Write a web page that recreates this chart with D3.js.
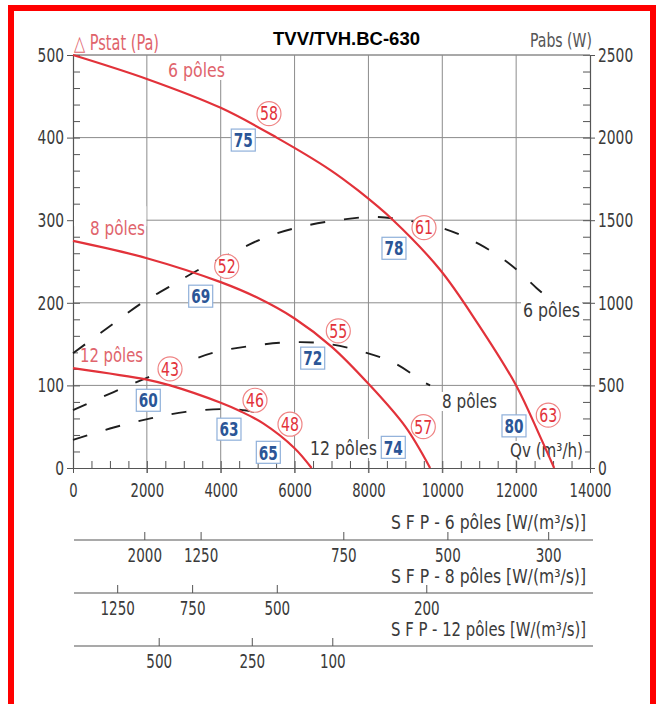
<!DOCTYPE html>
<html>
<head>
<meta charset="utf-8">
<script src="https://d3js.org/d3.v7.min.js"></script>
<style>
    body { margin: 0; background: #fff; }
    svg text { font-family: "Liberation Sans Narrow", "DejaVu Sans Condensed", "Liberation Sans", sans-serif; }
</style>
</head>
<body>
<svg id="chart" width="661" height="704"></svg>
<script>
// axis ticks
var qTicks = [0, 2000, 4000, 6000, 8000, 10000, 12000, 14000];
var pTicks = [0, 100, 200, 300, 400, 500];
var wTicks = [0, 500, 1000, 1500, 2000, 2500];

// static pressure curves, [Qv m3/h, Pa]
var pstat6 = [[0, 500], [2000, 471], [4000, 436], [5515, 400], [6960, 361], [7720, 336], [8670, 300],
    [9940, 240], [10930, 177], [12000, 100], [12650, 38], [13030, 0]];
var pstat8 = [[0, 275], [2000, 254], [4000, 225], [5000, 206], [6000, 181], [7000, 147], [8000, 102],
    [9000, 50], [9670, 0]];
var pstat12 = [[0, 121], [2000, 107], [2630, 100], [4000, 79], [4520, 69], [5150, 54], [6000, 24], [6460, 0]];

// absorbed power curves, [Qv m3/h, W] (right axis)
var pabs6 = [[0, 695], [950, 850], [1870, 1000], [2590, 1095], [3440, 1205], [4380, 1310], [5260, 1400],
    [6170, 1460], [7170, 1500], [8130, 1520], [9020, 1500], [10100, 1445], [11000, 1355], [11800, 1240],
    [12550, 1090], [12730, 1055]];
var pabs8 = [[0, 350], [1100, 460], [2050, 550], [3000, 635], [3840, 700], [4800, 738], [5780, 760],
    [6760, 755], [7750, 710], [8700, 635], [9500, 520], [9670, 500]];
var pabs12 = [[0, 170], [1100, 245], [2100, 300], [3050, 340], [4100, 357], [4700, 348], [5250, 320]];

// red circle markers
var circleVals = ["58", "61", "52", "55", "43", "46", "48", "57", "63"];
var circleQ = [5307, 9505, 4162, 7184, 2627, 4928, 5876, 9486, 12870];
var circleP = [429, 291, 244, 166, 120, 82, 53, 50, 64];

// blue box markers
var boxVals = ["75", "78", "69", "72", "60", "63", "65", "74", "80"];
var boxQ = [4611, 8692, 3458, 6491, 2039, 4224, 5289, 8673, 11942];
var boxP = [397, 266, 208, 133, 82, 47, 19, 25, 51];

// SFP scales under the chart, placed on the Qv axis
var sfp6Labels = ["2000", "1250", "750", "500", "300"];
var sfp6Q = [1944, 3469, 7333, 10152, 12881];
var sfp8Labels = ["1250", "750", "500", "200"];
var sfp8Q = [1210, 3239, 5532, 9580];
var sfp12Labels = ["500", "250", "100"];
var sfp12Q = [2334, 4855, 7035];

var svg = d3.select("#chart");
var gridColor = "#8c8c8c",
    axisColor = "#555",
    textColor = "#3a3a3a",
    red = "#e2323a";

var x = d3.scaleLinear().domain([0, 14000]).range([73, 590]);
var y = d3.scaleLinear().domain([0, 500]).range([468, 55]);
var yW = d3.scaleLinear().domain([0, 2500]).range([468, 55]);

/**
 * squeeze number labels to the narrow look of the original
 */
function narrow(sel, perChar) {
    sel.each(function () {
        var t = d3.select(this);
        var n = t.text().length;
        t.attr("textLength", n * perChar).attr("lengthAdjust", "spacingAndGlyphs");
    });
}

/**
 * plain text label, optional white background
 */
function label(g, txt, px, py, opts) {
    var t = g.append("text")
        .attr("x", px)
        .attr("y", py)
        .attr("font-size", opts.size || 18)
        .attr("fill", opts.color || textColor)
        .attr("text-anchor", opts.anchor || "start")
        .text(txt);
    if (opts.bold) t.attr("font-weight", "bold");
    if (opts.family) t.style("font-family", opts.family);
    if (opts.w) t.attr("textLength", opts.w).attr("lengthAdjust", "spacingAndGlyphs");
    if (opts.bg) {
        var b = t.node().getBBox();
        g.insert("rect", function () { return t.node(); })
            .attr("x", b.x - 2).attr("y", b.y + 2)
            .attr("width", b.width + 4).attr("height", b.height - 3)
            .attr("fill", "#fff");
    }
    return t;
}

// grid
var grid = svg.append("g");
grid.selectAll("line.v")
    .data(qTicks.filter(function (d) { return d > 0 && d < 14000; }))
    .enter().append("line")
    .attr("x1", function (d) { return x(d); })
    .attr("x2", function (d) { return x(d); })
    .attr("y1", y(500)).attr("y2", y(0) + 5)
    .attr("stroke", gridColor).attr("stroke-width", 1);
grid.selectAll("line.h")
    .data(pTicks.filter(function (d) { return d > 0; }))
    .enter().append("line")
    .attr("x1", x(0)).attr("x2", x(14000))
    .attr("y1", function (d) { return y(d); })
    .attr("y2", function (d) { return y(d); })
    .attr("stroke", gridColor).attr("stroke-width", 1);

// axes
function styleAxis(g) {
    g.selectAll("path.domain").attr("stroke", axisColor).attr("stroke-width", 1.2);
    g.selectAll(".tick line").attr("stroke", axisColor).attr("stroke-width", 1);
    g.selectAll(".tick text").attr("fill", textColor).attr("font-size", 19.5);
    g.attr("font-family", null);
}

var minorP = d3.range(0, 501, 20),
    minorW = d3.range(0, 2501, 100),
    minorQ = d3.range(0, 14001, 500);
var fmt = d3.format("d");

var gLeft = svg.append("g").attr("transform", "translate(" + x(0) + ",0)")
    .call(d3.axisLeft(y).tickValues(pTicks).tickFormat(fmt).tickSize(6).tickPadding(3).tickSizeOuter(0));
styleAxis(gLeft);
narrow(gLeft.selectAll(".tick text"), 8.8);
var gLeftMinor = svg.append("g").attr("transform", "translate(" + x(0) + ",0)")
    .call(d3.axisRight(y).tickValues(minorP).tickSize(7).tickFormat(""));
gLeftMinor.select("path.domain").remove();
styleAxis(gLeftMinor);

var gRight = svg.append("g").attr("transform", "translate(" + x(14000) + ",0)")
    .call(d3.axisRight(yW).tickValues(wTicks).tickFormat(fmt).tickSize(5).tickPadding(3).tickSizeOuter(0));
styleAxis(gRight);
narrow(gRight.selectAll(".tick text"), 8.8);
var gRightMinor = svg.append("g").attr("transform", "translate(" + x(14000) + ",0)")
    .call(d3.axisLeft(yW).tickValues(minorW).tickSize(7).tickFormat(""));
gRightMinor.select("path.domain").remove();
styleAxis(gRightMinor);

var gBottom = svg.append("g").attr("transform", "translate(0," + y(0) + ")")
    .call(d3.axisBottom(x).tickValues(qTicks).tickFormat(fmt).tickSize(5).tickPadding(10).tickSizeOuter(0));
styleAxis(gBottom);
narrow(gBottom.selectAll(".tick text"), 8.4);
var gBottomMinor = svg.append("g").attr("transform", "translate(0," + y(0) + ")")
    .call(d3.axisTop(x).tickValues(minorQ).tickSize(7).tickFormat(""));
gBottomMinor.select("path.domain").remove();
styleAxis(gBottomMinor);

// top frame line
svg.append("line")
    .attr("x1", x(0)).attr("x2", x(14000))
    .attr("y1", y(500)).attr("y2", y(500))
    .attr("stroke", gridColor).attr("stroke-width", 1);

// label backgrounds that cut the grid
var labels = svg.append("g");
labels.append("rect").attr("x", x(0) + 1).attr("y", y(300) - 14).attr("width", x(2000) - x(0) - 1.5).attr("height", 20).attr("fill", "#fff");

// power curves (dashed)
var linePabs = d3.line()
    .x(function (d) { return x(d[0]); })
    .y(function (d) { return yW(d[1]); })
    .curve(d3.curveCatmullRom.alpha(0.5));
svg.append("g").selectAll("path")
    .data([pabs6, pabs8, pabs12])
    .enter().append("path")
    .attr("d", linePabs)
    .attr("fill", "none")
    .attr("stroke", "#1e1e1e")
    .attr("stroke-width", 1.9)
    .attr("stroke-dasharray", "15,19");

// pressure curves
var linePstat = d3.line()
    .x(function (d) { return x(d[0]); })
    .y(function (d) { return y(d[1]); })
    .curve(d3.curveCatmullRom.alpha(0.5));
svg.append("g").selectAll("path")
    .data([pstat6, pstat8, pstat12])
    .enter().append("path")
    .attr("d", linePstat)
    .attr("fill", "none")
    .attr("stroke", red)
    .attr("stroke-width", 2.2);

// texts
var lred = "#e0646c";
label(labels, "\u25B3 Pstat (Pa)", 74, 50, {size: 21, color: lred, w: 85});
label(labels, "Pabs (W)", 530, 47, {size: 19, color: "#555", w: 62});
label(labels, "TVV/TVH.BC-630", 273, 45, {size: 18, color: "#000", bold: true, w: 147,
    family: "'Liberation Sans', Arial, sans-serif"});
label(labels, "6 pôles", 168, 77, {size: 19, color: lred, w: 57, bg: true});
label(labels, "8 pôles", 90, 235, {size: 19, color: lred, w: 55});
label(labels, "12 pôles", 80, 362, {size: 19, color: lred, w: 63, bg: true});
label(labels, "6 pôles", 523, 317, {size: 19, w: 57, bg: true});
label(labels, "8 pôles", 442, 408, {size: 19, w: 55, bg: true});
label(labels, "12 pôles", 310, 455, {size: 19, w: 67, bg: true});
label(labels, "Qv (m³/h)", 510, 457, {size: 19, w: 73, bg: true});

// circle markers
var circles = svg.append("g").selectAll("g")
    .data(circleVals)
    .enter().append("g")
    .attr("transform", function (d, i) {
        return "translate(" + x(circleQ[i]) + "," + y(circleP[i]) + ")";
    });
circles.append("circle").attr("r", 12)
    .attr("fill", "#fff").attr("stroke", "#ef8585").attr("stroke-width", 1.2);
circles.append("text")
    .attr("text-anchor", "middle").attr("dy", "0.36em")
    .attr("font-size", 19).attr("fill", red)
    .attr("textLength", 18).attr("lengthAdjust", "spacingAndGlyphs")
    .text(function (d) { return d; });

// box markers
var boxes = svg.append("g").selectAll("g")
    .data(boxVals)
    .enter().append("g")
    .attr("transform", function (d, i) {
        return "translate(" + x(boxQ[i]) + "," + y(boxP[i]) + ")";
    });
boxes.append("rect").attr("x", -12).attr("y", -11).attr("width", 24).attr("height", 22)
    .attr("fill", "#fff").attr("stroke", "#8fb0da").attr("stroke-width", 1.2);
boxes.append("text")
    .attr("text-anchor", "middle").attr("dy", "0.36em")
    .attr("font-size", 20).attr("font-weight", "bold").attr("fill", "#2b5697")
    .attr("textLength", 19).attr("lengthAdjust", "spacingAndGlyphs")
    .text(function (d) { return d; });

// SFP scales
function sfpScale(title, tickLabels, tickQ, lineY, titleY, labelY) {
    var g = svg.append("g");
    label(g, title, 586, titleY, {size: 19, anchor: "end", w: 195});
    g.append("line").attr("x1", x(0) + 1).attr("x2", x(14000) + 3)
        .attr("y1", lineY).attr("y2", lineY)
        .attr("stroke", axisColor).attr("stroke-width", 1.2);
    g.selectAll("line.t").data(tickQ).enter().append("line")
        .attr("x1", function (d) { return x(d); })
        .attr("x2", function (d) { return x(d); })
        .attr("y1", lineY).attr("y2", lineY - 8)
        .attr("stroke", axisColor);
    var t = g.selectAll("text.t").data(tickLabels).enter().append("text")
        .attr("x", function (d, i) { return x(tickQ[i]); })
        .attr("y", labelY)
        .attr("text-anchor", "middle")
        .attr("font-size", 19)
        .attr("fill", textColor)
        .text(function (d) { return d; });
    narrow(t, 8.6);
}
sfpScale("S F P - 6 pôles [W/(m³/s)]", sfp6Labels, sfp6Q, 540, 529, 562);
sfpScale("S F P - 8 pôles [W/(m³/s)]", sfp8Labels, sfp8Q, 593, 583, 615);
sfpScale("S F P - 12 pôles [W/(m³/s)]", sfp12Labels, sfp12Q, 646, 636, 668);

// red frame
svg.append("rect")
    .attr("x", 11).attr("y", 8).attr("width", 642).attr("height", 740)
    .attr("fill", "none").attr("stroke", "#ff0000").attr("stroke-width", 6);
</script>
</body>
</html>
